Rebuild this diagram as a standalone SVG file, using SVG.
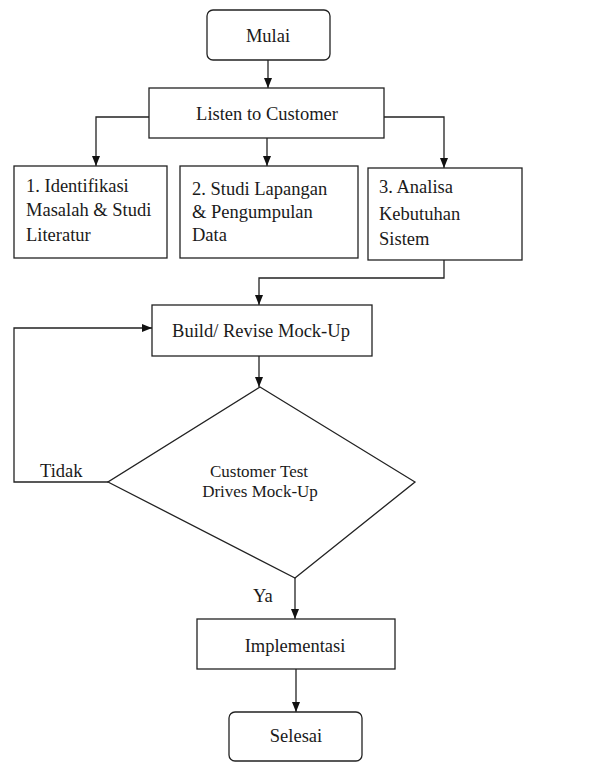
<svg xmlns="http://www.w3.org/2000/svg" width="592" height="762" viewBox="0 0 592 762">
<style>
.box{fill:#fff;stroke:#222;stroke-width:1.3}
.ln{fill:none;stroke:#222;stroke-width:1.3}
text{font-family:"Liberation Serif","Times New Roman",serif;font-size:18.5px;fill:#1a1a1a}
.c{text-anchor:middle}
.s{font-size:17px}
</style>
<defs>
<marker id="ah" markerUnits="userSpaceOnUse" markerWidth="10" markerHeight="10" viewBox="0 0 10 10" refX="10" refY="5" orient="auto">
<path d="M0,1 L10,5 L0,9 Z" fill="#111"/>
</marker>
</defs>
<g id="connectors">
<path class="ln" d="M268,60 V88" marker-end="url(#ah)"/>
<path class="ln" d="M149,117 H96 V166" marker-end="url(#ah)"/>
<path class="ln" d="M267,138 V166" marker-end="url(#ah)"/>
<path class="ln" d="M384,117 H444 V168" marker-end="url(#ah)"/>
<path class="ln" d="M444,260 V278 H259 V305" marker-end="url(#ah)"/>
<path class="ln" d="M259,356 V387" marker-end="url(#ah)"/>
<path class="ln" d="M108,482 H14 V328 H152" marker-end="url(#ah)"/>
<path class="ln" d="M295,578 V619" marker-end="url(#ah)"/>
<path class="ln" d="M296,669 V712" marker-end="url(#ah)"/>
</g>
<g id="mulai">
<rect class="box" x="207" y="10" width="123" height="50" rx="6"/>
<text class="c" x="268" y="42">Mulai</text>
</g>
<g id="listen">
<rect class="box" x="149" y="88" width="235" height="50"/>
<text class="c" x="267" y="120">Listen to Customer</text>
</g>
<g id="step1">
<rect class="box" x="14" y="166" width="153" height="92"/>
<text x="26" y="192">1. Identifikasi</text>
<text x="26" y="216">Masalah &amp; Studi</text>
<text x="26" y="241">Literatur</text>
</g>
<g id="step2">
<rect class="box" x="180" y="166" width="178" height="92"/>
<text x="192" y="195">2. Studi Lapangan</text>
<text x="192" y="218">&amp; Pengumpulan</text>
<text x="192" y="241">Data</text>
</g>
<g id="step3">
<rect class="box" x="368" y="168" width="154" height="92"/>
<text x="379" y="193">3. Analisa</text>
<text x="379" y="220">Kebutuhan</text>
<text x="379" y="245">Sistem</text>
</g>
<g id="build">
<rect class="box" x="152" y="305" width="220" height="51"/>
<text class="c" x="261" y="337">Build/ Revise Mock-Up</text>
</g>
<g id="decision">
<path class="box" d="M260,387 L415,482 L295,578 L108,482 Z"/>
<text class="c s" x="259" y="477">Customer Test</text>
<text class="c s" x="260" y="497">Drives Mock-Up</text>
</g>
<text x="40" y="477">Tidak</text>
<text x="253" y="602">Ya</text>
<g id="implementasi">
<rect class="box" x="197" y="619" width="198" height="50"/>
<text class="c" x="295" y="652">Implementasi</text>
</g>
<g id="selesai">
<rect class="box" x="229" y="712" width="133" height="49" rx="6"/>
<text class="c" x="296" y="742">Selesai</text>
</g>
</svg>
